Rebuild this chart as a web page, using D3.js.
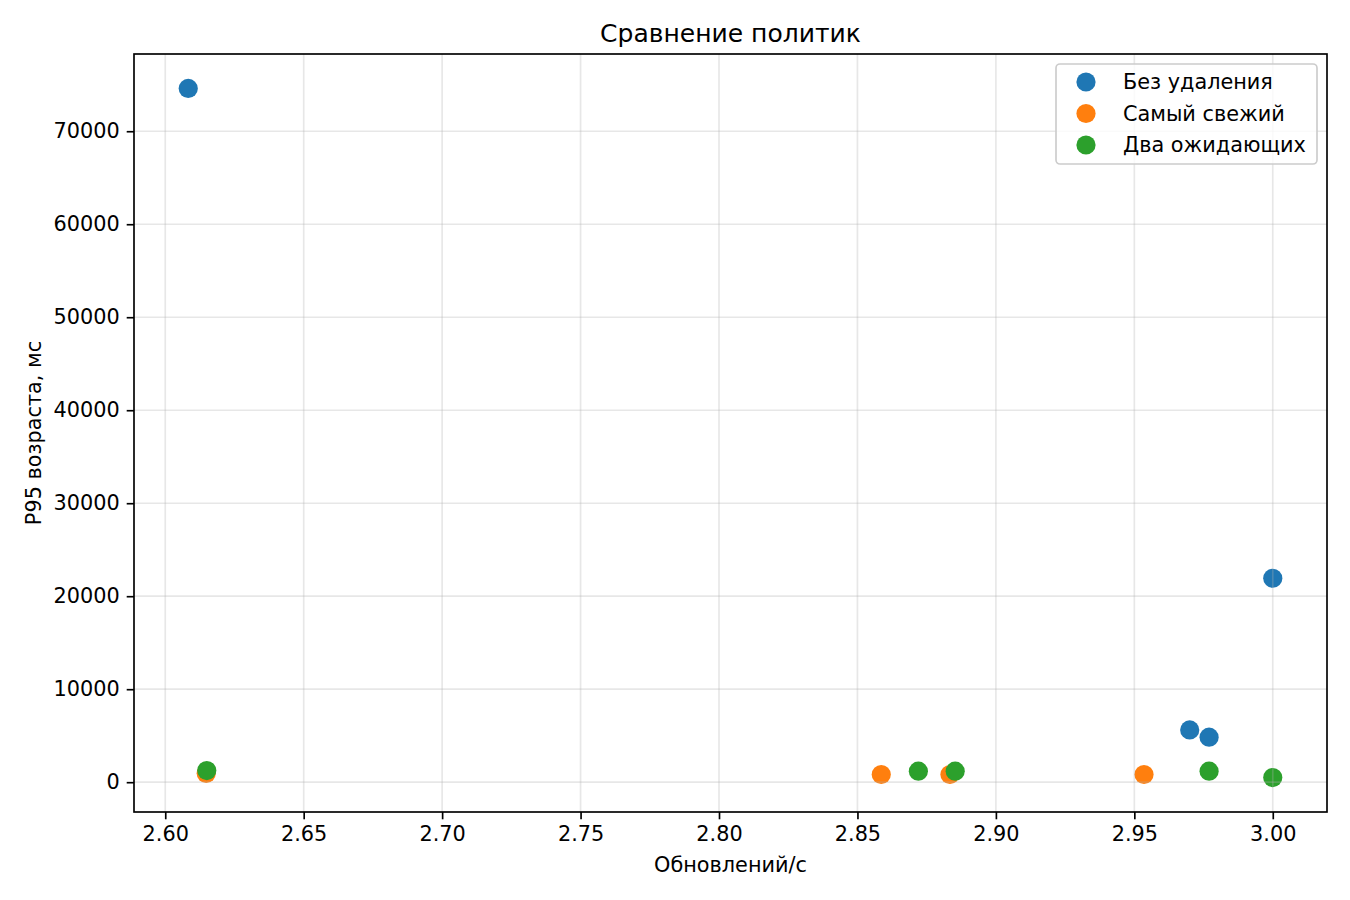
<!DOCTYPE html>
<html>
<head>
<meta charset="utf-8">
<script src="https://cdn.jsdelivr.net/npm/d3@7"></script>
<style>
  body { margin: 0; background: #fff; }
  text { font-family: "DejaVu Sans", sans-serif; fill: #000; }
</style>
</head>
<body>
<div id="chart-area"></div>
<script>
// series (x = updates/s, y = P95 age, ms)
var seriesNames = ["Без удаления", "Самый свежий", "Два ожидающих"];
var seriesColors = ["#1f77b4", "#ff7f0e", "#2ca02c"];

var noDropX = [2.6083, 2.970, 2.977, 3.000];
var noDropY = [74600, 5620, 4840, 21930];

var freshestX = [2.6148, 2.8586, 2.8834, 2.9535];
var freshestY = [950, 830, 830, 830];

var twoPendingX = [2.6150, 2.872, 2.8853, 2.977, 3.000];
var twoPendingY = [1250, 1180, 1180, 1180, 500];

var xTicks = [2.60, 2.65, 2.70, 2.75, 2.80, 2.85, 2.90, 2.95, 3.00];
var yTicks = [0, 10000, 20000, 30000, 40000, 50000, 60000, 70000];

var margin = { left: 134, right: 23, top: 54, bottom: 88 };
var width = 1350 - margin.left - margin.right,
    height = 900 - margin.top - margin.bottom;

var series = [
    { name: seriesNames[0], color: seriesColors[0], xs: noDropX, ys: noDropY },
    { name: seriesNames[1], color: seriesColors[1], xs: freshestX, ys: freshestY },
    { name: seriesNames[2], color: seriesColors[2], xs: twoPendingX, ys: twoPendingY }
];
series.forEach(function(s) {
    s.points = s.xs.map(function(x, i) { return { x: x, y: s.ys[i] }; });
});

var allX = noDropX.concat(freshestX, twoPendingX),
    allY = noDropY.concat(freshestY, twoPendingY);

// 5% margins like matplotlib
function padded(vals) {
    var lo = d3.min(vals), hi = d3.max(vals), p = (hi - lo) * 0.05;
    return [lo - p, hi + p];
}

var svg = d3.select("#chart-area")
    .append("svg")
        .attr("width", 1350)
        .attr("height", 900);

var g = svg.append("g")
    .attr("transform", "translate(" + margin.left + ", " + margin.top + ")");

var x = d3.scaleLinear().domain(padded(allX)).range([0, width]);
var y = d3.scaleLinear().domain(padded(allY)).range([height, 0]);

// Points
series.forEach(function(s) {
    g.append("g").selectAll("circle")
        .data(s.points)
        .enter()
        .append("circle")
        .attr("cx", function(d) { return x(d.x); })
        .attr("cy", function(d) { return y(d.y); })
        .attr("r", 9.6)
        .attr("fill", s.color);
});

// Grid (drawn over points, like matplotlib default zorder)
var grid = g.append("g").attr("class", "grid");
grid.selectAll(".gx").data(xTicks).enter().append("line")
    .attr("x1", function(d) { return x(d); }).attr("x2", function(d) { return x(d); })
    .attr("y1", 0).attr("y2", height)
    .attr("stroke", "#b0b0b0").attr("stroke-opacity", 0.3).attr("stroke-width", 1.67);
grid.selectAll(".gy").data(yTicks).enter().append("line")
    .attr("y1", function(d) { return y(d); }).attr("y2", function(d) { return y(d); })
    .attr("x1", 0).attr("x2", width)
    .attr("stroke", "#b0b0b0").attr("stroke-opacity", 0.3).attr("stroke-width", 1.67);

// X axis
var xAxisCall = d3.axisBottom(x)
    .tickValues(xTicks)
    .tickFormat(d3.format(".2f"))
    .tickSize(7.3)
    .tickPadding(7)
    .tickSizeOuter(0);
var xAxis = g.append("g")
    .attr("class", "x axis")
    .attr("transform", "translate(0," + height + ")")
    .call(xAxisCall);

// Y axis
var yAxisCall = d3.axisLeft(y)
    .tickValues(yTicks)
    .tickFormat(d3.format("d"))
    .tickSize(7.3)
    .tickPadding(7)
    .tickSizeOuter(0);
var yAxis = g.append("g")
    .attr("class", "y axis")
    .call(yAxisCall);

[xAxis, yAxis].forEach(function(a) {
    a.select(".domain").remove();
    a.selectAll(".tick line").attr("stroke", "#000").attr("stroke-width", 1.67);
    a.selectAll(".tick text")
        .attr("font-family", "DejaVu Sans")
        .attr("font-size", "20.8px")
        .attr("fill", "#000");
});

// Frame
g.append("rect")
    .attr("width", width)
    .attr("height", height)
    .attr("fill", "none")
    .attr("stroke", "#000")
    .attr("stroke-width", 1.67);

// Title
svg.append("text")
    .attr("x", margin.left + width / 2)
    .attr("y", 42)
    .attr("font-size", "25px")
    .attr("text-anchor", "middle")
    .text("Сравнение политик");

// X label
g.append("text")
    .attr("x", width / 2)
    .attr("y", height + 60)
    .attr("font-size", "20.8px")
    .attr("text-anchor", "middle")
    .text("Обновлений/с");

// Y label
g.append("text")
    .attr("y", -(margin.left - 41))
    .attr("x", -(height / 2))
    .attr("font-size", "20.8px")
    .attr("text-anchor", "middle")
    .attr("transform", "rotate(-90)")
    .text("P95 возраста, мс");

// Legend
var legW = 261, legH = 100;
var leg = g.append("g")
    .attr("transform", "translate(" + (width - 10 - legW) + ", 10)");
leg.append("rect")
    .attr("width", legW)
    .attr("height", legH)
    .attr("rx", 4)
    .attr("fill", "#fff")
    .attr("fill-opacity", 0.8)
    .attr("stroke", "#cccccc")
    .attr("stroke-width", 1.67);
var items = leg.selectAll(".item")
    .data(series)
    .enter()
    .append("g")
    .attr("transform", function(d, i) { return "translate(0," + (18 + i * 31.5) + ")"; });
items.append("circle")
    .attr("cx", 30)
    .attr("r", 9.6)
    .attr("fill", function(d) { return d.color; });
items.append("text")
    .attr("x", 67)
    .attr("dy", "0.35em")
    .attr("font-size", "20.8px")
    .text(function(d) { return d.name; });
</script>
</body>
</html>
